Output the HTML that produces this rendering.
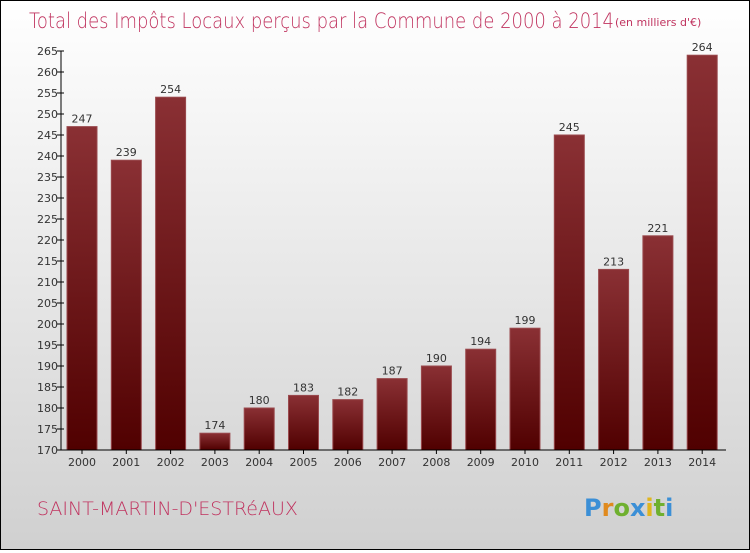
<!DOCTYPE html>
<html><head><meta charset="utf-8"><style>
body{margin:0;width:750px;height:550px;overflow:hidden;font-family:"DejaVu Sans","Liberation Sans",sans-serif}
#wrap{position:absolute;left:0;top:0;width:748px;height:548px;border:1px solid #000;background:linear-gradient(#fff,#d0d0d0)}
</style></head><body>
<div id="wrap">
<svg width="748" height="548" id="svg">
<text x="28" y="27" font-size="21" fill="#c0335f" font-family="DejaVu Sans, sans-serif" font-weight="200" textLength="585" lengthAdjust="spacingAndGlyphs">Total des Impôts Locaux perçus par la Commune de 2000 à 2014</text>
<text x="614" y="25" font-size="11" fill="#c0335f">(en milliers d'€)</text>
<text x="36" y="514" font-size="19" fill="#c0335f" font-weight="200">SAINT-MARTIN-D'ESTRéAUX</text>
<g font-size="24" font-weight="bold" font-family="DejaVu Sans, sans-serif">
<text x="583" y="515"><tspan fill="#3b8fd6">P</tspan><tspan fill="#e08a1e">r</tspan><tspan fill="#6fb02f">o</tspan><tspan fill="#3b8fd6">x</tspan><tspan fill="#e0b51e">i</tspan><tspan fill="#6fb02f">t</tspan><tspan fill="#3b8fd6">i</tspan></text>
</g>
<defs><linearGradient id="bg" x1="0" y1="0" x2="0" y2="1"><stop offset="0" stop-color="#8a3034"/><stop offset="1" stop-color="#500000"/></linearGradient></defs>
<g id="bars"></g><g id="axes"></g>
</svg></div>
<script>
const years=["2000","2001","2002","2003","2004","2005","2006","2007","2008","2009","2010","2011","2012","2013","2014"];
const values=[247,239,254,174,180,183,182,187,190,194,199,245,213,221,264];
const ticks=[170,175,180,185,190,195,200,205,210,215,220,225,230,235,240,245,250,255,260,265];
const NS="http://www.w3.org/2000/svg";
const x0=60,yMin=170,yMax=265,yTop=50,yBot=449,step=44.3,bw=30;
const y=v=>yBot-(v-yMin)/(yMax-yMin)*(yBot-yTop);
const xb=i=>x0+6+i*step;
function mk(t,a,p){const e=document.createElementNS(NS,t);for(const k in a)e.setAttribute(k,a[k]);p.appendChild(e);return e;}
const bars=document.getElementById('bars'),axes=document.getElementById('axes');
values.forEach((v,i)=>{
const r=mk('rect',{x:xb(i),y:y(v),width:bw,height:yBot-y(v),fill:'url(#bg)',stroke:'#9a4a4e','stroke-width':1},bars);


const t=mk('text',{x:xb(i)+bw/2,y:y(v)-4,'font-size':11,fill:'#333','text-anchor':'middle'},bars);t.textContent=v;


const xl=mk('text',{x:xb(i)+bw/2,y:yBot+16,'font-size':11,fill:'#333','text-anchor':'middle'},axes);xl.textContent=years[i];


mk('line',{x1:xb(i)+bw/2,x2:xb(i)+bw/2,y1:yBot,y2:yBot+4,stroke:'#000'},axes);
});
const ya=mk('line',{x1:x0,x2:x0,y1:yTop,y2:yBot,stroke:'#000'},axes);


const xa=mk('line',{x1:x0,x2:725,y1:yBot,y2:yBot,stroke:'#000'},axes);


ticks.forEach(v=>{
mk('line',{x1:x0-4,x2:x0+3,y1:y(v),y2:y(v),stroke:'#000'},axes);
const t=mk('text',{x:x0-3,y:y(v)+4,'font-size':11,fill:'#333','text-anchor':'end'},axes);t.textContent=v;


});
</script>
</body></html>
